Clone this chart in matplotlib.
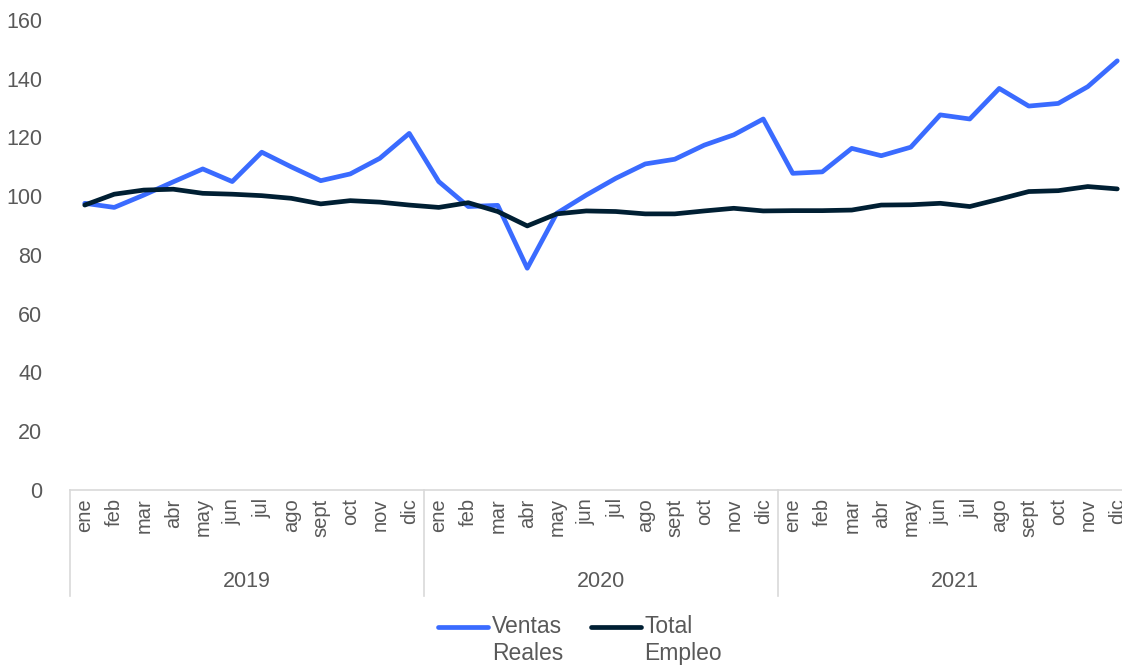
import matplotlib
matplotlib.use("Agg")
import matplotlib.pyplot as plt
from matplotlib.legend_handler import HandlerLine2D
from matplotlib.transforms import blended_transform_factory

plt.rcParams["font.family"] = ["Liberation Sans", "DejaVu Sans"]

meses = ["ene", "feb", "mar", "abr", "may", "jun",
         "jul", "ago", "sept", "oct", "nov", "dic"]
anios = ["2019", "2020", "2021"]

ventas_reales = [
    97.6, 96.2, 100.4, 104.9, 109.3, 105.0, 115.0, 110.0, 105.3, 107.6, 112.9, 121.4,
    105.0, 96.5, 96.9, 75.5, 94.2, 100.4, 106.1, 111.0, 112.6, 117.4, 120.9, 126.3,
    107.8, 108.3, 116.3, 113.8, 116.7, 127.7, 126.3, 136.7, 130.7, 131.6, 137.3, 146.1,
]
total_empleo = [
    97.0, 100.7, 102.1, 102.4, 101.0, 100.7, 100.2, 99.3, 97.4, 98.5, 98.0, 97.0,
    96.2, 97.8, 94.8, 89.9, 94.0, 95.0, 94.8, 94.0, 94.0, 95.0, 95.9, 95.0,
    95.1, 95.1, 95.3, 97.0, 97.1, 97.6, 96.5, 99.0, 101.6, 101.9, 103.3, 102.5,
]

GRIS = "#595959"
W, H = 1122, 668


class HandlerFirstLine(HandlerLine2D):
    # put the legend line next to the first line of a two-line label
    def create_artists(self, legend, orig_handle, xdescent, ydescent,
                       width, height, fontsize, trans):
        arts = super().create_artists(legend, orig_handle, xdescent, ydescent,
                                      width, height, fontsize, trans)
        for a in arts:
            a.set_ydata([y + 0.6 * fontsize for y in a.get_ydata()])
        return arts


fig = plt.figure(figsize=(W / 100, H / 100), dpi=100)
ax = fig.add_axes([70 / W, 1 - 490 / H, 1062 / W, 470 / H])

x = list(range(len(ventas_reales)))
ax.plot(x, ventas_reales, color="#3A6BFF", lw=3.4, label="Ventas\nReales",
        solid_joinstyle="round", solid_capstyle="round")
ax.plot(x, total_empleo, color="#001F33", lw=3.4, label="Total\nEmpleo",
        solid_joinstyle="round", solid_capstyle="round")

ax.set_ylim(0, 160)
ax.set_yticks(range(0, 161, 20))
ax.set_xlim(-0.5, len(x) - 0.5)
ax.set_xticks(x)
ax.set_xticklabels(meses * len(anios), rotation=90, fontsize=14.5, color=GRIS)
ax.tick_params(axis="x", length=0, pad=6)
ax.tick_params(axis="y", length=0, pad=20, labelsize=15.5, labelcolor=GRIS)

for s in ["top", "right", "left"]:
    ax.spines[s].set_visible(False)
ax.spines["bottom"].set_color("#D9D9D9")
ax.spines["bottom"].set_linewidth(1.2)

# year groups below the month labels
trans = blended_transform_factory(ax.transData, ax.transAxes)
for i, anio in enumerate(anios):
    x0 = i * 12 - 0.5
    ax.plot([x0, x0], [0, -0.225], transform=trans, color="#D9D9D9",
            lw=1.2, clip_on=False)
    ax.text(x0 + 6, -0.195, anio, transform=trans, ha="center", va="center",
            fontsize=15.5, color=GRIS)

leg = fig.legend(loc="center", bbox_to_anchor=(580 / W, 1 - 640 / H),
                 ncol=2, frameon=False, fontsize=16.5, handlelength=2.2,
                 handletextpad=0.15, columnspacing=1.2, labelspacing=0.1,
                 handler_map={plt.Line2D: HandlerFirstLine()})
for t in leg.get_texts():
    t.set_color(GRIS)

fig.savefig("out.png", dpi=100)
